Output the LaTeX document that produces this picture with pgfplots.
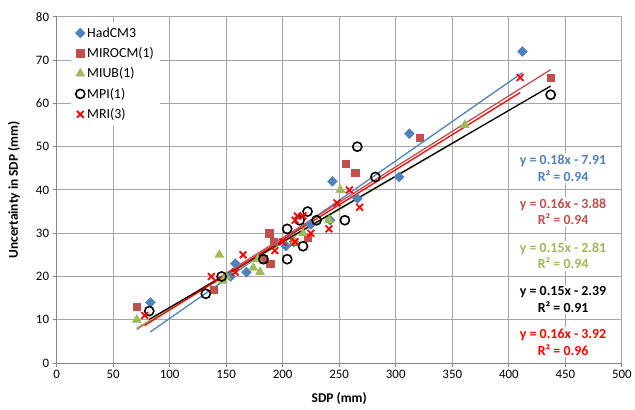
\documentclass[border=0pt]{standalone}
\usepackage{pgfplots}
\pgfplotsset{compat=1.18}
\usepackage{fontspec}
\setmainfont{Carlito}
\definecolor{hadc}{HTML}{4F81BD}
\definecolor{miroc}{HTML}{C0504D}
\definecolor{miub}{HTML}{9BBB59}
\definecolor{mri}{HTML}{FF0000}
\definecolor{gridc}{HTML}{A6A6A6}
\definecolor{axc}{HTML}{868686}
\begin{document}
\begin{tikzpicture}
\begin{axis}[
    scale only axis,
    width=570pt, height=349pt,
    xmin=0, xmax=500, ymin=0, ymax=80,
    xtick={0,50,...,500}, ytick={0,10,...,80},
    grid=major,
    grid style={gridc, line width=0.9pt},
    axis line style={axc, line width=0.9pt},
    tick style={axc, line width=0.9pt},
    tick align=outside, major tick length=4pt,
    xtick pos=bottom, ytick pos=left,
    axis x line*=bottom, axis y line*=left,
    /pgf/number format/assume math mode=true,
    ticklabel style={font=\fontsize{13}{15}\selectfont},
    xlabel={\textbf{SDP (mm)}},
    ylabel={\textbf{Uncertainty in SDP (mm)}},
    every axis x label/.style={at={(rel axis cs:0.5,0)}, yshift=-36pt, anchor=center},
    every axis y label/.style={at={(rel axis cs:0,0.5)}, xshift=-43pt, rotate=90, anchor=center},
    label style={font=\fontsize{13.5}{15}\selectfont},
    legend style={at={(0.026,0.987)}, anchor=north west, draw=none, fill=white,
        font=\fontsize{14}{16}\selectfont, row sep=4.8pt, inner sep=4pt},
    legend cell align=left,
    clip=false,
]
% HadCM3
\addplot[only marks, mark=square*, mark size=3.5pt, mark options={rotate=45}, color=hadc] coordinates {
(83,14)(154,20)(158,23)(168,21)(203,27)(210,28)(225,32)(242,33)(244,42)(266,38)(303,43)(312,53)(412,72)};
\addlegendentry{HadCM3}
% MIROCM(1)
\addplot[only marks, mark=square*, mark size=3.7pt, color=miroc] coordinates {
(71,13)(139,17)(183,24)(189,23)(188,30)(192,28)(210,28)(222,29)(256,46)(264,44)(321,52)(437,66)};
\addlegendentry{MIROCM(1)}
% MIUB(1)
\addplot[only marks, mark=triangle*, mark size=5.3pt, color=miub] coordinates {
(71,10)(144,25)(147,19)(150,20)(174,22)(178,24)(180,21)(211,28)(218,30)(241,33)(251,40)(361,55)};
\addlegendentry{MIUB(1)}
% MPI(1)
\addplot[only marks, mark=o, mark size=4.6pt, mark options={line width=1.6pt}, color=black] coordinates {
(82,12)(132,16)(146,20)(183,24)(204,31)(204,24)(215,33)(218,27)(222,35)(230,33)(255,33)(266,50)(282,43)(437,62)};
\addlegendentry{MPI(1)}
% MRI(3)
\addplot[only marks, mark=x, mark size=4.8pt, mark options={line width=1.8pt}, color=mri] coordinates {
(78,11)(137,20)(158,21)(165,25)(193,26)(200,28)(211,28)(211,33)(213,34)(218,34)(225,30)(241,31)(248,37)(259,40)(268,36)(410,66)};
\addlegendentry{MRI(3)}
% trend lines
\addplot[hadc, line width=1.3pt, forget plot] coordinates {(83,7.2)(412,67.1)};
\addplot[miroc, line width=1.3pt, forget plot] coordinates {(71,7.8)(437,67.8)};
\addplot[miub, line width=1.3pt, forget plot] coordinates {(71,8.1)(361,52.4)};
\addplot[black, line width=1.3pt, forget plot] coordinates {(82,10.1)(437,64.0)};
\addplot[mri, line width=1.3pt, forget plot] coordinates {(78,8.7)(410,62.5)};
% equations
\begin{scope}[every node/.style={fill=white, align=center, inner sep=2pt,
    font=\fontsize{14}{16.5}\selectfont\bfseries}]
\node[text=hadc] at (axis cs:448,45) {y = 0.18x - 7.91\\R² = 0.94};
\node[text=miroc] at (axis cs:448,34.9) {y = 0.16x - 3.88\\R² = 0.94};
\node[text=miub] at (axis cs:448,24.8) {y = 0.15x - 2.81\\R² = 0.94};
\node[text=black] at (axis cs:448,14.7) {y = 0.15x - 2.39\\R² = 0.91};
\node[text=mri] at (axis cs:448,4.8) {y = 0.16x - 3.92\\R² = 0.96};
\end{scope}
\path (rel axis cs:0,0) ++(-57pt,-47pt);
\path (rel axis cs:1,1) ++(8pt,17pt);
\end{axis}
\end{tikzpicture}
\end{document}
